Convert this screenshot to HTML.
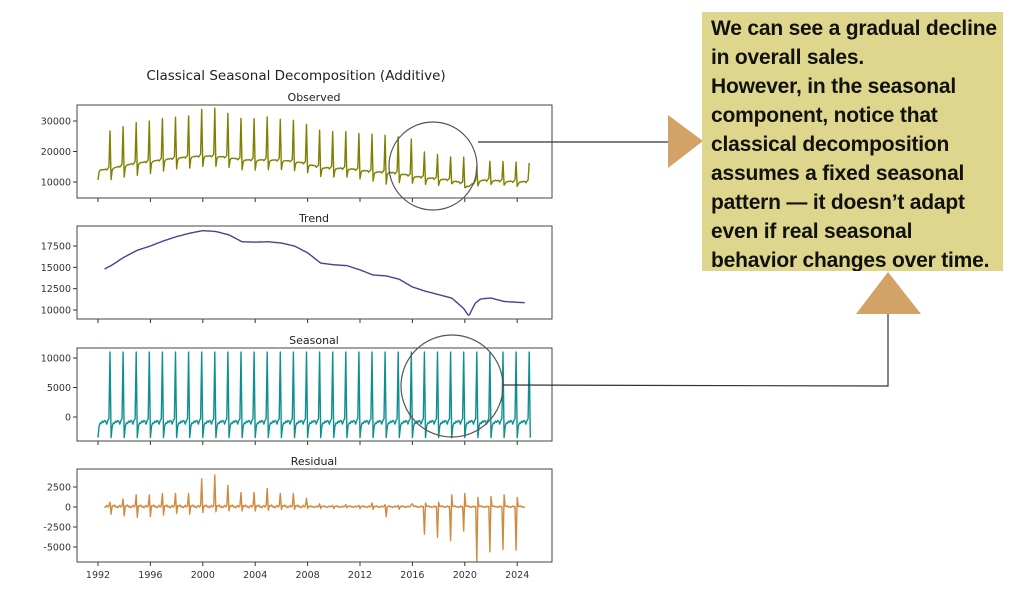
<!DOCTYPE html>
<html><head><meta charset="utf-8"><style>
body{margin:0;background:#fff;width:1024px;height:605px;overflow:hidden;font-family:"DejaVu Sans","Liberation Sans",sans-serif}
#note{position:absolute;left:702px;top:12px;width:301px;height:259px;background:#ddd68c;box-sizing:border-box;padding:2px 0 0 9px;font:bold 21px/29px "Liberation Sans",sans-serif;color:#111;letter-spacing:-0.2px;white-space:nowrap;overflow:hidden}
</style></head><body>
<svg id="chart" width="1024" height="605" style="position:absolute;left:0;top:0">
<text x="296" y="80" font-size="13.5" text-anchor="middle" fill="#222">Classical Seasonal Decomposition (Additive)</text>
<g id="panels"></g>
<g>
<circle cx="433" cy="166" r="44" fill="none" stroke="#555" stroke-width="1.2"/>
<circle cx="452" cy="386" r="51" fill="none" stroke="#555" stroke-width="1.2"/>
<line x1="478" y1="142" x2="670" y2="142" stroke="#333" stroke-width="1.2"/>
<polyline points="503,385 888,386 888,313" fill="none" stroke="#333" stroke-width="1.2"/>
<polygon points="668,115 703,141 668,168" fill="#d3a266"/>
<polygon points="888,272 921,314 856,314" fill="#d3a266"/>
</g>
</svg>
<div id="note">We can see a gradual decline<br>in overall sales.<br>However, in the seasonal<br>component, notice that<br>classical decomposition<br>assumes a fixed seasonal<br>pattern — it doesn’t adapt<br>even if real seasonal<br>behavior changes over time.</div>
<script>
const trendTimes=[1992.5,1993,1994,1995,1996,1997,1998,1999,2000,2001,2002,2003,2004,2005,2006,2007,2008,2009,2010,2011,2012,2013,2014,2015,2016,2017,2018,2019,2019.9,2020.3,2020.8,2021.2,2022,2023,2024,2024.6];
const trendValues=[14800,15200,16200,17000,17500,18100,18600,19000,19300,19200,18800,18000,17950,18000,17850,17500,16700,15500,15300,15200,14700,14100,14000,13600,12700,12200,11800,11400,10200,9300,10800,11300,11400,11000,10900,10850];
const seasonalPattern=[-3500,-1600,-1000,-1100,-700,-900,-600,-700,-1200,-600,-300,11000];
const residYears=[1992,1993,1994,1995,1996,1997,1998,1999,2000,2001,2002,2003,2004,2005,2006,2007,2008,2009,2010,2011,2012,2013,2014,2015,2016,2017,2018,2019,2020,2021,2022,2023,2024];
const residDec=[600,1000,1500,1500,1700,1700,1700,3500,4000,2700,1800,1800,2300,1700,1700,1100,400,200,300,200,500,300,200,300,-3400,-3800,-4200,-3000,-6800,-5600,-5300,-5400,-5600];
const residJan=[-600,-900,-1100,-1300,-1200,-1000,-800,-900,-700,-600,-500,-500,-500,-400,-300,-300,-200,-200,-200,-100,-200,-300,-1200,-300,400,500,600,1500,1700,1200,1300,1500,1200];
const residNoise=[0,150,100,250,0,100,-100,50,200,0,150,0];
const obsTicks=[10000,20000,30000],trendTicks=[10000,12500,15000,17500],seasTicks=[0,5000,10000],resTicks=[-5000,-2500,0,2500];
const yearTicks=[1992,1996,2000,2004,2008,2012,2016,2020,2024];

const X=t=>98+(t-1992)*13.1;
function trendAt(t){if(t<=trendTimes[0])return trendValues[0];const n=trendTimes.length;if(t>=trendTimes[n-1])return trendValues[n-1];
for(let i=0;i<n-1;i++)if(t<=trendTimes[i+1]){const f=(t-trendTimes[i])/(trendTimes[i+1]-trendTimes[i]);return trendValues[i]+f*(trendValues[i+1]-trendValues[i]);}}
function resid(y,m){const i=y-1992;let r=residNoise[m]*(y<2008?1:0.6);if(m===11)r=residDec[i];if(m===0)r=residJan[i];return r;}
const months=[];for(let y=1992;y<=2025;y++)for(let m=0;m<12;m++){if(y===2025&&m>0)continue;months.push([y,m,y+m/12]);}
const ns='http://www.w3.org/2000/svg';const G=document.getElementById('panels');
function mk(tag,a,p){const e=document.createElementNS(ns,tag);for(const k in a)e.setAttribute(k,a[k]);(p||G).appendChild(e);return e;}
function panel(name,top,title,v0,y0px,v1,y1px,ticks,pts,color,last){
 const g=mk('g',{});
 
 
 const Y=v=>y0px+(v-v0)*(y1px-y0px)/(v1-v0);
 const t=mk('text',{x:314,y:top-4,'font-size':11,'text-anchor':'middle',fill:'#222'},g);t.textContent=title;
 
 
 const p=mk('path',{d:pts.map((q,i)=>(i?'L':'M')+X(q[0]).toFixed(1)+','+Y(q[1]).toFixed(1)).join(''),fill:'none',stroke:color,'stroke-width':1.4,'stroke-linejoin':'round'},g);
 
 
 ticks.forEach(v=>{const yy=Y(v);mk('line',{x1:73,x2:77,y1:yy,y2:yy,stroke:'#333'},g);
  const l=mk('text',{x:71,y:yy+3.5,'font-size':9.5,'text-anchor':'end',fill:'#333'},g);l.textContent=v;
  
  });
 yearTicks.forEach(yr=>{const xx=X(yr);mk('line',{x1:xx,x2:xx,y1:top+93,y2:top+97,stroke:'#333'},g);
  if(last){const l=mk('text',{x:xx,y:top+109,'font-size':9.5,'text-anchor':'middle',fill:'#333'},g);l.textContent=yr;
  
  }});
 const r=mk('rect',{x:77,y:top,width:475,height:93,fill:'none',stroke:'#444','stroke-width':1},g);
 
 
}
const obs=months.map(([y,m,t])=>[t,trendAt(t)+seasonalPattern[m]+resid(y,m)]);
const tr=months.filter(q=>q[2]>=trendTimes[0]&&q[2]<=trendTimes[trendTimes.length-1]).map(q=>[q[2],trendAt(q[2])]);
const se=months.map(([y,m,t])=>[t,seasonalPattern[m]]);
const re=months.filter(q=>q[2]>=1992.5&&q[2]<=2024.6).map(([y,m,t])=>[t,resid(y,m)]);
panel('observed',105,'Observed',10000,182,30000,121,obsTicks,obs,'#808000',false);
panel('trend',226,'Trend',10000,310,17500,246,trendTicks,tr,'#4b3f96',false);
panel('seasonal',348,'Seasonal',0,417,10000,358,seasTicks,se,'#0e9090',false);
panel('residual',469,'Residual',0,507,-5000,547,resTicks,re,'#d08a40',true);
</script>
</body></html>
